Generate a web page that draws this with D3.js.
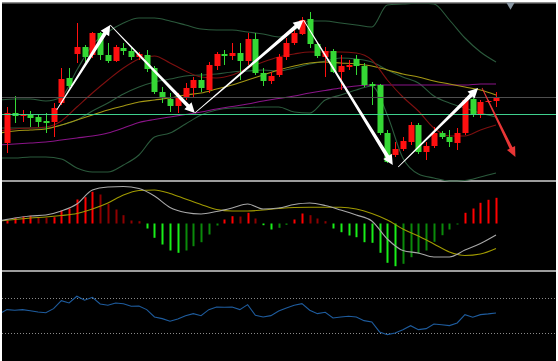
<!DOCTYPE html>
<html><head><meta charset="utf-8">
<script src="https://cdn.jsdelivr.net/npm/d3@7"></script>
<style>html,body{margin:0;padding:0;background:#fff;overflow:hidden}svg{display:block}</style>
</head><body><svg id="c" width="558" height="361"></svg>
<script>
// ---------- DATA ----------
// candles (price units), index 0..63
const opens  = [37,67,64,66,63,59,58,77,102,126,133,125,147,125,119,132,129,123,125,112,88,81,74,83,92,100,90,114,126,124,127,119,141,107,99,105,123,137,146,161,136,123,129,108,113,121,114,96,95,47,25,31,38,55,28,34,47,43,37,47,81,65,78,79];
const highs  = [73,84,70,69,65,67,77,112,112,157,135,148,148,137,135,137,132,128,130,114,93,87,87,97,103,107,118,128,130,137,137,147,147,112,108,126,142,150,163,168,138,133,131,125,120,125,117,98,96,50,38,43,58,57,38,53,49,50,52,82,85,80,80,88];
const lows   = [27,57,58,53,53,47,43,75,92,117,118,122,120,117,118,125,120,120,108,86,77,68,67,80,83,88,87,110,115,120,100,115,105,94,96,103,120,135,145,132,122,103,107,90,110,105,93,75,45,17,23,29,35,26,20,32,41,33,30,45,63,62,77,73];
const closes = [67,64,66,62,58,57,72,101,94,133,123,147,125,119,133,129,123,126,111,88,83,74,83,92,100,92,115,126,124,127,119,141,107,99,104,123,137,147,160,136,124,129,108,114,115,114,95,94,47,18,31,39,55,28,34,47,43,38,47,80,65,78,79,83];

// overlay lines sampled every 2 candles, starting at index -1 (-1,1,3,...,63)
const bollUpper = [80,81,81,79,83,110,135,148,157,162,162,159,155,151,150,150,148,146,143,150,159,159,157,155,153,175,176,177,176,160,142,128,118];
const bollMid   = [52,52,52,52,55,60,69,77,86,93,98,101,104,105,106,108,109,110,109,112,116,119,122,121,118,110,103,97,84,77,72,67,63];
const bollLower = [22,22,23,23,21,12,8,8,15,25,43,47,56,65,70,72,72.5,73,73,68,67,80,85,90,94,65,22,6,2,-1,-0.5,3,7];
const maFast    = [49,51,52,53,59,73,87,100,112,121,124,117,109,103,102,105,112,118,123,126,128,128,128,127,120,100,83,69,52,44,44,50,55];
const maMid     = [47,49,50,51,55,60,65,70,74,78,80,82,85,87,91,95,100,105,110,114,117,118,117,116,114,110,106,103,99,96,93,90,85];
const maSlow    = [35,36,37,38,40,42,44,47,52,57.5,60.5,63,65.5,68,71,73.5,76,79,81.5,84,87,89.5,92,94,95,95,95,95,95,95,95,96,96];
const priceLevels = [83, 66];

// MACD
const macdHist = [3,5.7,7,7.7,6.3,5.7,6.3,13,15,24,26.3,31.7,29,19.7,14,8.3,3,2.3,-5,-14.3,-21,-27,-29.3,-27,-22.7,-18.7,-11,-2,4,7.3,7,10.7,5,-1.7,-6,-4.3,-1.3,4,10,8.3,5,2.3,-5,-8.7,-12,-13.7,-18.7,-19.3,-29.3,-39.3,-42.7,-40.3,-33.7,-30.3,-27,-18.3,-11.7,-6,-1,10.7,15,20.7,23.7,25.7];
const macdDif  = [2.5,5.5,7.5,8.5,12.5,19.5,33.5,36.5,37,35,27.5,16,11,9.5,12,15.5,19.5,14.5,15.5,19,20.5,18,13.5,8.5,2.5,-15.5,-27,-29.5,-33.5,-33.5,-26.5,-20,-11.5];
const macdDea  = [2.5,4,5.5,6.5,8,10,14.5,20.5,28.5,33,33.5,30,24.5,19,14,12.5,12.5,13.5,15,16,16.2,16.2,16.2,14.5,10,3.5,-5.5,-12.5,-20.5,-28.5,-32,-30.5,-25];

// RSI, index -1..63
const rsi = [52.1,57,56.3,57,55.8,54.3,53.5,58.1,67.3,64.6,72.3,67.7,71.1,63.5,62,64.6,63.8,60.9,61.2,57,48.6,46.7,43.7,46.3,50.1,52.4,50.1,57,60,59.7,60,57,62.7,50.6,48.6,50.1,55.5,58.9,62,63.8,56.3,52.4,54,47.5,48.6,49.4,48.6,44.4,42.9,31.5,28.4,30.3,34.1,38.7,34.1,35.3,40.6,39.8,38.7,41.8,51.3,48.3,51.3,52.1,53.2];
const rsiLevels = [70, 30];

// wave arrows: [fromIndex, fromPrice, toIndex, toPrice]
const waveArrows = [[6.4,70,13.3,155],[13.3,155,24.2,67],[24.2,67,38.2,160],[38.2,160,49.7,15],[50.4,13,60.7,92]];
const forecastArrows = [[61.2,92,65.5,23]];

// ---------- CHART ----------
const W = 558, H = 361;
const svg = d3.select('#c');
svg.append('rect').attr('width', W).attr('height', H).attr('fill', '#fff');
svg.append('rect').attr('x', 2).attr('y', 2).attr('width', 554).attr('height', 359).attr('fill', '#000');
svg.append('rect').attr('x', 2).attr('y', 2).attr('width', 554).attr('height', 1.5).attr('fill', '#8c8c8c');

const defs = svg.append('defs');
function clip(id, y0, y1) {
  defs.append('clipPath').attr('id', id).append('rect').attr('x', 2).attr('y', y0).attr('width', 554).attr('height', y1 - y0);
  return svg.append('g').attr('clip-path', `url(#${id})`);
}

const x = d3.scaleLinear().domain([0, 63]).range([7, 496]);
const yMain = d3.scaleLinear().domain([0, 175]).range([180, 5]);
const yMacd = d3.scaleLinear().domain([-45, 40]).range([268.5, 183.5]);
const yRsi = d3.scaleLinear().domain([0, 100]).range([359.5, 272]);

const sampleIdx = d3.range(-1, 64, 2);

// separators
svg.append('rect').attr('x', 2).attr('y', 180).attr('width', 554).attr('height', 2).attr('fill', '#9c9c9c');
svg.append('rect').attr('x', 2).attr('y', 270).attr('width', 554).attr('height', 2).attr('fill', '#9c9c9c');

// ----- main panel -----
const gMain = clip('cm', 3.5, 182);
const smooth = (ys) => d3.line().x((d, i) => x(sampleIdx[i])).y(d => ys(d)).curve(d3.curveMonotoneX);
const lineSpecs = [
  [bollUpper, '#2b5a3c'], [bollMid, '#2b5a3c'], [bollLower, '#2b5a3c'],
  [maSlow, '#8a1488'], [maMid, '#a49814'], [maFast, '#7e1010']
];
lineSpecs.forEach(([arr, col]) => {
  gMain.append('path').attr('d', smooth(yMain)(arr)).attr('fill', 'none').attr('stroke', col).attr('stroke-width', 1.1);
});

const candles = opens.map((o, i) => ({i, o, h: highs[i], l: lows[i], c: closes[i]}));
const upCol = '#ff1010', dnCol = '#35d835';
const cg = gMain.append('g');
cg.selectAll('line.w').data(candles).join('line')
  .attr('x1', d => Math.round(x(d.i)) + 0.5).attr('x2', d => Math.round(x(d.i)) + 0.5)
  .attr('y1', d => yMain(d.h)).attr('y2', d => yMain(d.l))
  .attr('stroke', d => d.c >= d.o ? upCol : dnCol).attr('stroke-width', 1);
cg.selectAll('rect.b').data(candles).join('rect')
  .attr('x', d => Math.round(x(d.i)) - 2.5).attr('width', 6)
  .attr('y', d => yMain(Math.max(d.o, d.c)))
  .attr('height', d => Math.max(1, Math.abs(yMain(d.o) - yMain(d.c))))
  .attr('fill', d => d.c >= d.o ? upCol : dnCol);

gMain.selectAll('line.lv').data(priceLevels).join('line')
  .attr('x1', 2).attr('x2', 556)
  .attr('y1', d => Math.round(yMain(d)) + 0.5).attr('y2', d => Math.round(yMain(d)) + 0.5)
  .attr('stroke', (d, i) => i === 0 ? '#4e4e4e' : '#3fd08e').attr('stroke-width', 1.2);

function arrowPoly(x1, y1, x2, y2, w0, w1, hl, hw) {
  const dx = x2 - x1, dy = y2 - y1, L = Math.hypot(dx, dy), ux = dx / L, uy = dy / L, nx = -uy, ny = ux;
  const bx = x2 - ux * hl, by = y2 - uy * hl;
  return [[x1 + nx * w0 / 2, y1 + ny * w0 / 2], [bx + nx * w1 / 2, by + ny * w1 / 2], [bx + nx * hw, by + ny * hw], [x2, y2],
          [bx - nx * hw, by - ny * hw], [bx - nx * w1 / 2, by - ny * w1 / 2], [x1 - nx * w0 / 2, y1 - ny * w0 / 2]];
}
const ag = svg.append('g');
ag.selectAll('polygon.wa').data(waveArrows).join('polygon')
  .attr('points', d => arrowPoly(x(d[0]), yMain(d[1]), x(d[2]), yMain(d[3]), 0.8, 3.8, 10, 5).map(p => p.join(',')).join(' '))
  .attr('fill', '#fff');
ag.selectAll('polygon.fa').data(forecastArrows).join('polygon')
  .attr('points', d => arrowPoly(x(d[0]), yMain(d[1]), x(d[2]), yMain(d[3]), 0.8, 3.2, 10, 4.5).map(p => p.join(',')).join(' '))
  .attr('fill', '#e83636');

// shift marker
svg.append('path').attr('d', d3.symbol().type(d3.symbolTriangle).size(30)()).attr('transform', 'translate(510.5,5) rotate(180)').attr('fill', '#8896a2');

// ----- MACD panel -----
const gMacd = clip('cmd', 182, 270);
gMacd.selectAll('rect').data(macdHist).join('rect')
  .attr('x', (d, i) => Math.round(x(i)) - 0.5).attr('width', 2)
  .attr('y', d => yMacd(Math.max(0, d))).attr('height', d => Math.abs(yMacd(d) - yMacd(0)))
  .attr('fill', (d, i) => {
    const p = i > 0 ? macdHist[i - 1] : d;
    if (d >= 0) return d >= p ? '#ff0000' : '#8e0000';
    return d <= p ? '#19ee19' : '#0a8a0a';
  });
gMacd.append('path').attr('d', smooth(yMacd)(macdDea)).attr('fill', 'none').attr('stroke', '#a09a00').attr('stroke-width', 1.1);
gMacd.append('path').attr('d', smooth(yMacd)(macdDif)).attr('fill', 'none').attr('stroke', '#a8a8a8').attr('stroke-width', 1.1);

// ----- RSI panel -----
const gRsi = clip('cr', 272, 361);
gRsi.selectAll('line').data(rsiLevels).join('line')
  .attr('x1', 2).attr('x2', 556).attr('y1', d => Math.round(yRsi(d)) + 0.5).attr('y2', d => Math.round(yRsi(d)) + 0.5)
  .attr('stroke', '#8a8a8a').attr('stroke-width', 1).attr('stroke-dasharray', '1,2');
gRsi.append('path')
  .attr('d', d3.line().x((d, i) => x(i - 1)).y(d => yRsi(d))(rsi))
  .attr('fill', 'none').attr('stroke', '#1e5c9e').attr('stroke-width', 1.1);
</script></body></html>
